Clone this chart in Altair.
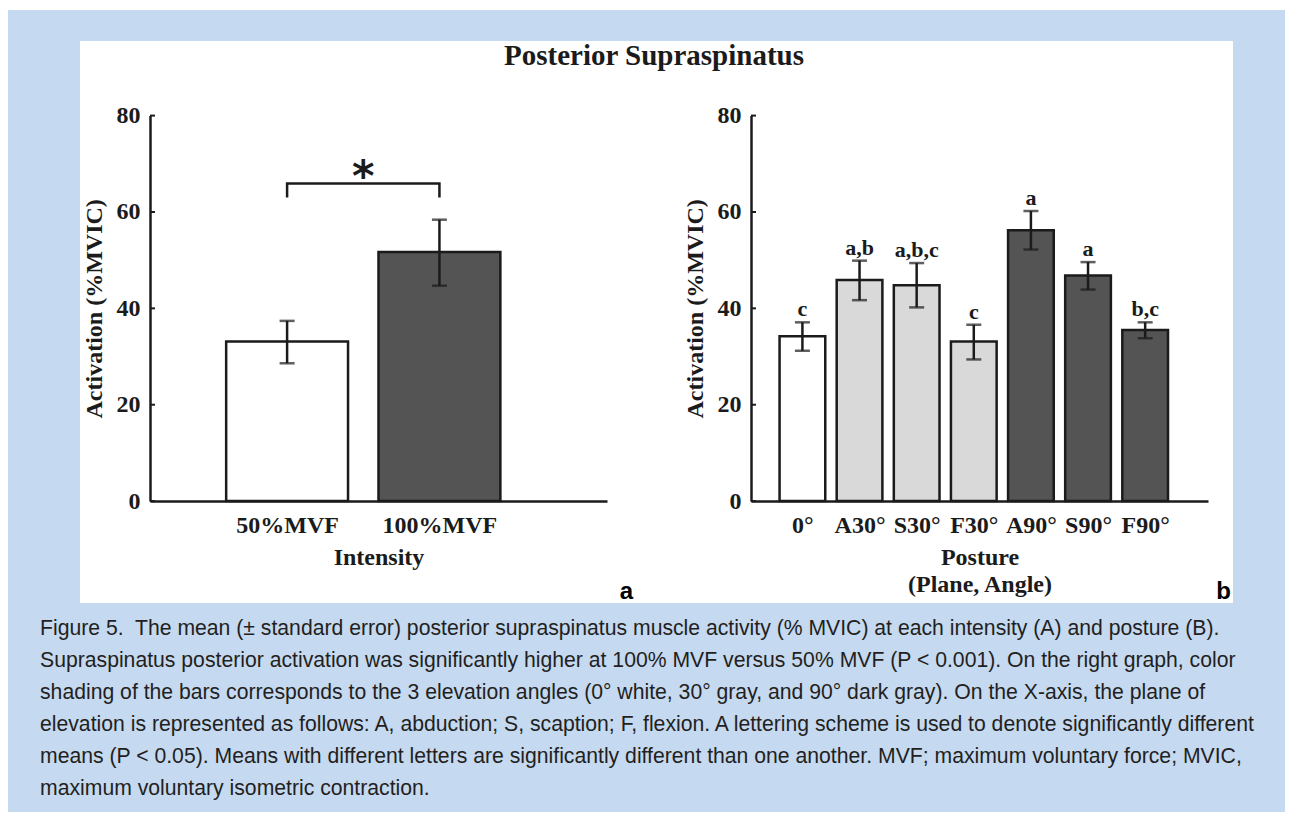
import json
import altair as alt
import pandas as pd

# ---------------- data ----------------
intensity_labels = ["50%MVF", "100%MVF"]
intensity_mean = [33.1, 51.7]
intensity_low = [28.6, 44.7]
intensity_high = [37.4, 58.4]

posture_labels = ["0°", "A30°", "S30°", "F30°", "A90°", "S90°", "F90°"]
posture_angle = ["0°", "30°", "30°", "30°", "90°", "90°", "90°"]
posture_mean = [34.2, 45.9, 44.8, 33.1, 56.2, 46.8, 35.5]
posture_low = [31.2, 41.7, 40.2, 29.4, 52.2, 43.9, 33.8]
posture_high = [37.1, 49.9, 49.4, 36.6, 60.2, 49.6, 37.1]
posture_letters = ["c", "a,b", "a,b,c", "c", "a", "a", "b,c"]

y_ticks = [0, 20, 40, 60, 80]
bracket_foot = 63.0
bracket_top = 65.9

main_title = "Posterior Supraspinatus"
caption_lines = [
    "Figure 5.\u00a0 The mean (± standard error) posterior supraspinatus muscle activity (% MVIC) at each intensity (A) and posture (B).",
    "Supraspinatus posterior activation was significantly higher at 100% MVF versus 50% MVF (P < 0.001). On the right graph, color",
    "shading of the bars corresponds to the 3 elevation angles (0° white, 30° gray, and 90° dark gray). On the X-axis, the plane of",
    "elevation is represented as follows: A, abduction; S, scaption; F, flexion. A lettering scheme is used to denote significantly different",
    "means (P < 0.05). Means with different letters are significantly different than one another. MVF; maximum voluntary force; MVIC,",
    "maximum voluntary isometric contraction.",
]

# ---------------- styling / layout ----------------
SERIF = "Liberation Serif"
INK = "#1b1b1b"
BLUE = "#c5d9f1"
WHITE_FILL = "#ffffff"
LIGHT = "#d9d9d9"
DARK = "#545454"

PANEL_H = 562
W_A, W_B = 576, 577
Y_RANGE = [460.1, 74.6]
XA_RANGE = [70, 527]
XB_RANGE = [95, 552]
PAGE_L, PAGE_T, PAGE_R, PAGE_B = -72, -33, 1205, 771

df_a = pd.DataFrame({
    "label": intensity_labels,
    "pos": list(range(1, len(intensity_labels) + 1)),
    "mean": intensity_mean,
    "low": intensity_low,
    "high": intensity_high,
})
df_b = pd.DataFrame({
    "label": posture_labels,
    "angle": posture_angle,
    "pos": list(range(1, len(posture_labels) + 1)),
    "mean": posture_mean,
    "low": posture_low,
    "high": posture_high,
    "letters": posture_letters,
})
df_ticks = pd.DataFrame({"tick": y_ticks})
df_bracket = pd.DataFrame({
    "pos": [1, 1, 2, 2],
    "val": [bracket_foot, bracket_top, bracket_top, bracket_foot],
    "seq": [0, 1, 2, 3],
})
df_star = pd.DataFrame({"pos": [1.5], "val": [bracket_top]})
one = alt.Data(values=[{}])


def y_axis():
    return alt.Axis(
        title="Activation (%MVIC)", values=y_ticks, offset=0, labelFlush=False,
        ticks=False, tickSize=0, labelPadding=10, labelFontSize=24,
        labelFont=SERIF, labelFontWeight="bold", labelColor=INK,
        titleFont=SERIF, titleFontSize=24, titleFontWeight="bold", titleColor=INK,
        titleX=-49, titleBaseline="alphabetic", domainColor=INK, domainWidth=2.5,
        grid=False, zindex=1, labelOverlap=False,
    )


def make_y(field, xr):
    ax = y_axis()
    ax.offset = -xr[0]
    return alt.Y(f"{field}:Q", scale=alt.Scale(domain=[0, 80], range=Y_RANGE, nice=False, zero=False), axis=ax)


def make_x(field, labels, xr, title, title_lh=None):
    expr = f"{json.dumps(labels)}[datum.value - 1]"
    kw = dict(
        title=title, values=list(range(1, len(labels) + 1)), labelExpr=expr,
        offset=-(PANEL_H - Y_RANGE[0]), ticks=False, tickSize=0,
        labelPadding=31, labelBaseline="alphabetic", labelFontSize=24,
        labelFont=SERIF, labelFontWeight="bold", labelColor=INK,
        labelFlush=False, labelOverlap=False,
        titleFont=SERIF, titleFontSize=24, titleFontWeight="bold", titleColor=INK,
        titleY=63.3, titleBaseline="alphabetic", domainColor=INK, domainWidth=2.5,
        grid=False, zindex=1,
    )
    if title_lh:
        kw["titleLineHeight"] = title_lh
    n = len(labels)
    return alt.X(f"{field}:Q", scale=alt.Scale(domain=[0.1, n + 1.1], range=xr, nice=False, zero=False),
                 axis=alt.Axis(**kw))


def panel_layers(df, labels, xr, title, color_field, color_domain, color_range, title_lh=None):
    X = lambda f: make_x(f, labels, xr, title, title_lh)
    Y = lambda f: make_y(f, xr)
    ticks = alt.Chart(df_ticks).mark_rule(color=INK, strokeWidth=2).encode(
        y=Y("tick"), x=alt.value(xr[0]), x2=alt.value(xr[0] + 5))
    bars = alt.Chart(df).transform_calculate(
        x0="datum.pos - 0.4", x1="datum.pos + 0.4", base="0"
    ).mark_rect(stroke=INK, strokeWidth=2.5).encode(
        x=X("x0"), x2="x1:Q", y=Y("mean"), y2="base:Q",
        fill=alt.Fill(f"{color_field}:N", scale=alt.Scale(domain=color_domain, range=color_range), legend=None),
    )
    err = alt.Chart(df).mark_rule(color=INK, strokeWidth=2.5).encode(
        x=X("pos"), y=Y("low"), y2="high:Q")
    caps = alt.Chart(df).transform_fold(["low", "high"], as_=["end", "cap"]).mark_tick(
        color=INK, orient="horizontal", size=15, thickness=2.5).encode(x=X("pos"), y=Y("cap"))
    return [ticks, bars, err, caps], X, Y


# ---------------- panel a ----------------
layers_a, XA, YA = panel_layers(df_a, intensity_labels, XA_RANGE, "Intensity", "label",
                                intensity_labels, [WHITE_FILL, DARK])
bg_white = alt.Chart(one).mark_rect(fill="white").encode(
    x=alt.value(PAGE_L), x2=alt.value(PAGE_R), y=alt.value(PAGE_T), y2=alt.value(PAGE_B))
bg_blue = alt.Chart(one).mark_rect(fill=BLUE).encode(
    x=alt.value(PAGE_L), x2=alt.value(PAGE_R), y=alt.value(PAGE_T + 2), y2=alt.value(PAGE_B))
panel_white = alt.Chart(one).mark_rect(fill="white").encode(
    x=alt.value(0), x2=alt.value(W_A + W_B), y=alt.value(0), y2=alt.value(PANEL_H))
bracket = alt.Chart(df_bracket).mark_line(color=INK, strokeWidth=2.5, strokeJoin="miter").encode(
    x=XA("pos"), y=YA("val"), order="seq:Q")
star = alt.Chart(df_star).mark_text(text="*", font="DejaVu Sans", fontSize=43, fontWeight="bold",
                                    color=INK, baseline="alphabetic", dy=7).encode(x=XA("pos"), y=YA("val"))
title = alt.Chart(one).mark_text(text=main_title, font=SERIF, fontSize=29, fontWeight="bold",
                                 color=INK, align="center", baseline="alphabetic").encode(
    x=alt.value(574), y=alt.value(24))
letter_a = alt.Chart(one).mark_text(text="a", font="Liberation Sans", fontSize=24, fontWeight="bold",
                                    color="black", align="right", baseline="alphabetic").encode(
    x=alt.value(553), y=alt.value(558))
letter_b = alt.Chart(one).mark_text(text="b", font="Liberation Sans", fontSize=24, fontWeight="bold",
                                    color="black", align="right", baseline="alphabetic").encode(
    x=alt.value(1151), y=alt.value(558))
caption = alt.Chart(one).mark_text(font="Liberation Sans", fontSize=21.2, color="#231f20",
                                   align="left", baseline="alphabetic", lineHeight=32).encode(
    text=alt.value(caption_lines), x=alt.value(-40), y=alt.value(594))

panel_a = alt.layer(bg_white, bg_blue, panel_white, *layers_a, bracket, star, title,
                    letter_a, letter_b, caption).properties(width=W_A, height=PANEL_H)

# ---------------- panel b ----------------
layers_b, XB, YB = panel_layers(df_b, posture_labels, XB_RANGE, ["Posture", "(Plane, Angle)"], "angle",
                                ["0°", "30°", "90°"], [WHITE_FILL, LIGHT, DARK], title_lh=27.4)
letters = alt.Chart(df_b).mark_text(font=SERIF, fontSize=22, fontWeight="bold", color=INK,
                                    baseline="alphabetic", dy=-6).encode(
    x=XB("pos"), y=YB("high"), text="letters:N")
panel_b = alt.layer(*layers_b, letters).properties(width=W_B, height=PANEL_H)

chart = alt.hconcat(panel_a, panel_b, spacing=0, bounds="flush").resolve_scale(
    fill="independent", x="independent", y="independent"
).properties(padding=0).configure(background="white").configure_view(strokeWidth=0, stroke="transparent")

chart.save("out.html", embed_options={"renderer": "svg", "actions": False})
